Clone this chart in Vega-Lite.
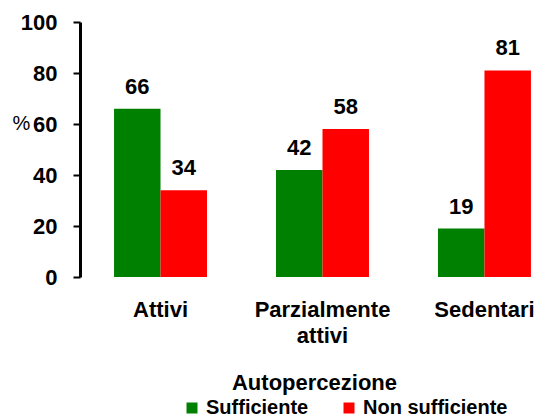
{
  "$schema": "https://vega.github.io/schema/vega-lite/v6.json",
  "width": 460,
  "height": 255,
  "autosize": {"type": "none"},
  "padding": {"left": 80, "top": 22, "right": 0, "bottom": 143},
  "background": "white",
  "config": {"view": {"stroke": null}, "font": "Liberation Sans"},
  "data": {"values": [
    {"gruppo": "Attivi", "auto": "Sufficiente", "pct": 66},
    {"gruppo": "Attivi", "auto": "Non sufficiente", "pct": 34},
    {"gruppo": "Parzialmente attivi", "auto": "Sufficiente", "pct": 42},
    {"gruppo": "Parzialmente attivi", "auto": "Non sufficiente", "pct": 58},
    {"gruppo": "Sedentari", "auto": "Sufficiente", "pct": 19},
    {"gruppo": "Sedentari", "auto": "Non sufficiente", "pct": 81}
  ]},
  "encoding": {
    "x": {
      "field": "gruppo", "type": "nominal",
      "sort": ["Attivi", "Parzialmente attivi", "Sedentari"],
      "scale": {"paddingInner": 0.426, "paddingOuter": 0.133, "align": 0.79},
      "axis": {
        "domain": false, "ticks": false, "labelAngle": 0,
        "labelFontSize": 22, "labelFontWeight": "bold", "labelColor": "black",
        "labelPadding": 22, "labelLineHeight": 26,
        "labelExpr": "datum.value == 'Parzialmente attivi' ? ['Parzialmente', 'attivi'] : datum.value",
        "title": "Autopercezione", "titleFontSize": 22, "titleFontWeight": "bold", "titleColor": "black",
        "titleBaseline": "top", "titleY": 95, "titleX": 234, "titleAlign": "center"
      }
    },
    "xOffset": {"field": "auto", "type": "nominal", "sort": ["Sufficiente", "Non sufficiente"]},
    "y": {
      "field": "pct", "type": "quantitative",
      "scale": {"domain": [0, 100]},
      "axis": {
        "values": [0, 20, 40, 60, 80, 100], "grid": false,
        "domainColor": "black", "domainWidth": 3,
        "tickColor": "black", "tickWidth": 2, "tickSize": 7,
        "labelFontSize": 22, "labelFontWeight": "bold", "labelColor": "black", "labelPadding": 16,
        "title": "%", "titleAngle": 0, "titleX": -68, "titleY": 101,
        "titleAlign": "left", "titleBaseline": "middle",
        "titleFontSize": 20, "titleFontWeight": "normal", "titleColor": "black"
      }
    }
  },
  "layer": [
    {
      "mark": {"type": "bar"},
      "encoding": {
        "color": {
          "field": "auto", "type": "nominal",
          "scale": {"domain": ["Sufficiente", "Non sufficiente"], "range": ["#008000", "#FF0000"]},
          "legend": {
            "title": null, "orient": "none", "direction": "horizontal",
            "legendX": 102, "legendY": 376,
            "symbolType": "square", "symbolSize": 121, "symbolStrokeWidth": 0,
            "labelFontSize": 20, "labelFontWeight": "bold", "labelColor": "black",
            "labelOffset": 4, "columnPadding": 30
          }
        }
      }
    },
    {
      "mark": {"type": "text", "baseline": "alphabetic", "dy": -15, "fontSize": 22, "fontWeight": "bold", "color": "black"},
      "encoding": {"text": {"field": "pct", "type": "quantitative"}}
    }
  ]
}
